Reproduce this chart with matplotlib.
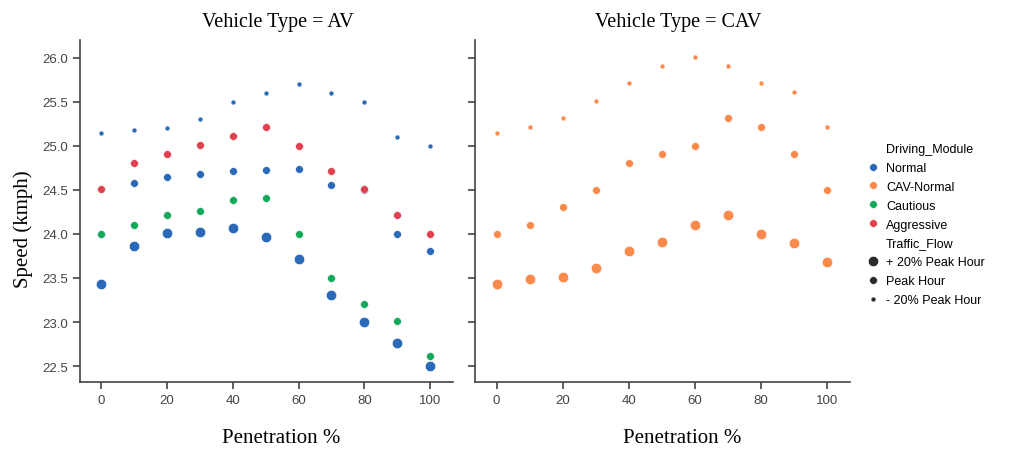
import matplotlib
matplotlib.use("Agg")
import matplotlib.pyplot as plt
from matplotlib.lines import Line2D

# penetration levels
pen = [0, 10, 20, 30, 40, 50, 60, 70, 80, 90, 100]

# AV panel, Normal module at the three traffic flows
av_normal_minus20 = [25.14, 25.18, 25.2, 25.3, 25.5, 25.6, 25.7, 25.6, 25.5, 25.1, 25.0]
av_normal_peak = [24.0, 24.58, 24.65, 24.68, 24.71, 24.72, 24.74, 24.56, 24.5, 24.0, 23.81]
av_normal_plus20 = [23.43, 23.86, 24.01, 24.02, 24.07, 23.96, 23.71, 23.31, 23.0, 22.76, 22.5]
# AV panel, Cautious / Aggressive at peak hour
av_cautious_peak = [24.0, 24.1, 24.21, 24.26, 24.39, 24.41, 24.0, 23.5, 23.21, 23.01, 22.61]
av_aggressive_peak = [24.51, 24.81, 24.91, 25.01, 25.11, 25.21, 25.0, 24.71, 24.51, 24.21, 24.0]

# CAV panel, CAV-Normal module
cav_minus20 = [25.14, 25.21, 25.31, 25.51, 25.71, 25.91, 26.01, 25.9, 25.71, 25.61, 25.21]
cav_peak = [24.0, 24.1, 24.31, 24.5, 24.81, 24.91, 25.0, 25.31, 25.21, 24.91, 24.5]
cav_plus20 = [23.43, 23.49, 23.51, 23.61, 23.81, 23.91, 24.1, 24.21, 24.0, 23.9, 23.68]

c_normal = "#2a6ab8"
c_cav = "#f98a4b"
c_cautious = "#14a85a"
c_aggr = "#e0414f"

s_big, s_mid, s_small = 56, 32, 13

fig = plt.figure(figsize=(10.09, 4.52), dpi=100)
ax1 = fig.add_axes([0.0793, 0.1527, 0.3697, 0.7566])
ax2 = fig.add_axes([0.4708, 0.1527, 0.3717, 0.7566], sharey=ax1)

kw = dict(edgecolor="white", linewidths=0.4, zorder=3)
ax1.scatter(pen, av_normal_minus20, s=s_small, color=c_normal, **kw)
ax1.scatter(pen, av_normal_plus20, s=s_big, color=c_normal, **kw)
ax1.scatter(pen, av_normal_peak, s=s_mid, color=c_normal, **kw)
ax1.scatter(pen, av_cautious_peak, s=s_mid, color=c_cautious, **kw)
ax1.scatter(pen, av_aggressive_peak, s=s_mid, color=c_aggr, **kw)

ax2.scatter(pen, cav_minus20, s=s_small, color=c_cav, **kw)
ax2.scatter(pen, cav_peak, s=s_mid, color=c_cav, **kw)
ax2.scatter(pen, cav_plus20, s=s_big, color=c_cav, **kw)

serif = "Liberation Serif"
sans = "Liberation Sans"

for ax, title, xc in [(ax1, "Vehicle Type = AV", 0.54), (ax2, "Vehicle Type = CAV", 0.552)]:
    ax.set_xlim(-6.5, 107)
    ax.set_ylim(22.32, 26.2)
    ax.set_xticks([0, 20, 40, 60, 80, 100])
    ax.set_yticks([22.5, 23.0, 23.5, 24.0, 24.5, 25.0, 25.5, 26.0])
    for side in ["top", "right"]:
        ax.spines[side].set_visible(False)
    for side in ["left", "bottom"]:
        ax.spines[side].set_color("#444444")
        ax.spines[side].set_linewidth(1.2)
    ax.tick_params(colors="#444444", labelcolor="#444444", width=1.2, length=5, labelsize=9.5)
    for lab in ax.get_xticklabels() + ax.get_yticklabels():
        lab.set_fontfamily(sans)
    ax.set_title(title, fontfamily=serif, fontsize=14.5, x=xc - 0.01, pad=10)
    ax.set_xlabel("Penetration %", fontfamily=serif, fontsize=15)
    ax.xaxis.set_label_coords(xc, -0.135)

ax1.yaxis.set_major_formatter(matplotlib.ticker.FormatStrFormatter("%.1f"))
ax2.tick_params(labelleft=False)
ax1.set_ylabel("Speed (kmph)", fontfamily=serif, fontsize=15)
ax1.yaxis.set_label_coords(-0.125, 0.45)

# legend in seaborn style
def dot(color, ms):
    return Line2D([], [], linestyle="none", marker="o", color=color, markersize=ms,
                  markeredgecolor="white", markeredgewidth=0.4)

blank = Line2D([], [], linestyle="none")
handles = [blank, dot(c_normal, 5.6), dot(c_cav, 5.6), dot(c_cautious, 5.6), dot(c_aggr, 5.6),
           blank, dot("#2b2b2b", 7.4), dot("#2b2b2b", 5.6), dot("#2b2b2b", 3.6)]
labels = ["Driving_Module", "Normal", "CAV-Normal", "Cautious", "Aggressive",
          "Traffic_Flow", "+ 20% Peak Hour", "Peak Hour", "- 20% Peak Hour"]
fig.legend(handles, labels, loc="upper left", bbox_to_anchor=(0.852, 0.695),
           frameon=False, prop={"family": sans, "size": 9}, handletextpad=0.4,
           labelspacing=0.55, handlelength=1.2, borderpad=0)

fig.savefig("out.png", dpi=100)
